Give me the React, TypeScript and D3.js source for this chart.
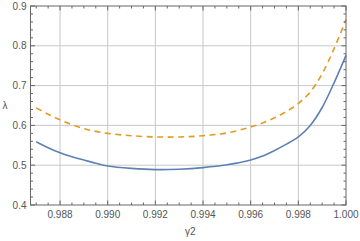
import React, { useRef, useEffect } from "react";
import * as d3 from "d3";

// data
const gammaValues = [
  0.987, 0.9875, 0.988, 0.9885, 0.989, 0.9895, 0.99, 0.991, 0.992, 0.993, 0.994,
  0.995, 0.996, 0.9965, 0.997, 0.9975, 0.998, 0.9985, 0.999, 0.9995, 1.0,
];
const lambdaSolid = [
  0.559, 0.544, 0.531, 0.521, 0.513, 0.505, 0.498, 0.492, 0.489, 0.49, 0.494,
  0.501, 0.513, 0.523, 0.537, 0.553, 0.571, 0.6, 0.645, 0.707, 0.776,
];
const lambdaDashed = [
  0.644, 0.628, 0.614, 0.602, 0.592, 0.585, 0.58, 0.574, 0.571, 0.571, 0.574,
  0.581, 0.596, 0.606, 0.619, 0.635, 0.655, 0.684, 0.73, 0.793, 0.866,
];
const xTicks = [0.988, 0.99, 0.992, 0.994, 0.996, 0.998, 1.0];
const yTicks = [0.4, 0.5, 0.6, 0.7, 0.8, 0.9];

const W = 360;
const H = 241;

const App = () => {
  const svgRef = useRef<SVGSVGElement>(null);

  useEffect(() => {
    const svg = d3.select(svgRef.current);
    svg.selectAll("*").remove();

    const left = 30.5, right = 346, top = 6, bottom = 205;
    const x = d3.scaleLinear().domain([0.98676, 1.0]).range([left, right]);
    const y = d3.scaleLinear().domain([0.4, 0.9]).range([bottom, top]);

    const frameColor = "#666";
    const gridColor = "#c8c8c8";
    const font = "'Liberation Sans', Arial, sans-serif";

    // grid
    const grid = svg.append("g");
    xTicks.filter((t) => t < 1).forEach((t) => {
      grid.append("line")
        .attr("x1", x(t)).attr("x2", x(t))
        .attr("y1", top).attr("y2", bottom)
        .attr("stroke", gridColor).attr("stroke-width", 1);
    });
    yTicks.filter((t) => t > 0.4 && t < 0.9).forEach((t) => {
      grid.append("line")
        .attr("x1", left).attr("x2", right)
        .attr("y1", y(t)).attr("y2", y(t))
        .attr("stroke", gridColor).attr("stroke-width", 1);
    });

    // curves
    const line = d3
      .line<number>()
      .x((_, i) => x(gammaValues[i]))
      .y((d) => y(d))
      .curve(d3.curveCatmullRom.alpha(0.5));

    svg.append("path")
      .datum(lambdaSolid)
      .attr("fill", "none")
      .attr("stroke", "#5E81B5")
      .attr("stroke-width", 1.6)
      .attr("d", line);

    svg.append("path")
      .datum(lambdaDashed)
      .attr("fill", "none")
      .attr("stroke", "#E19C24")
      .attr("stroke-width", 1.6)
      .attr("stroke-dasharray", "6,4.5")
      .attr("d", line);

    // frame
    svg.append("rect")
      .attr("x", left).attr("y", top)
      .attr("width", right - left).attr("height", bottom - top)
      .attr("fill", "none")
      .attr("stroke", frameColor).attr("stroke-width", 1);

    // ticks on all four sides
    const ticks = svg.append("g").attr("stroke", frameColor).attr("stroke-width", 1);
    const xMinor = d3.range(0, 27).map((i) => 0.987 + i * 0.0005);
    xMinor.forEach((t) => {
      const major = xTicks.some((m) => Math.abs(m - t) < 1e-6);
      const len = major ? 4.5 : 2.5;
      ticks.append("line")
        .attr("x1", x(t)).attr("x2", x(t))
        .attr("y1", bottom).attr("y2", bottom - len);
      ticks.append("line")
        .attr("x1", x(t)).attr("x2", x(t))
        .attr("y1", top).attr("y2", top + len);
    });
    const yMinor = d3.range(0, 26).map((i) => 0.4 + i * 0.02);
    yMinor.forEach((t) => {
      const major = yTicks.some((m) => Math.abs(m - t) < 1e-6);
      const len = major ? 4.5 : 2.5;
      ticks.append("line")
        .attr("x1", left).attr("x2", left + len)
        .attr("y1", y(t)).attr("y2", y(t));
      ticks.append("line")
        .attr("x1", right).attr("x2", right - len)
        .attr("y1", y(t)).attr("y2", y(t));
    });

    // tick labels
    const labels = svg.append("g")
      .attr("font-family", font)
      .attr("font-size", 10)
      .attr("fill", "#555");
    xTicks.forEach((t) => {
      labels.append("text")
        .attr("x", x(t)).attr("y", bottom + 13)
        .attr("text-anchor", "middle")
        .text(d3.format(".3f")(t));
    });
    yTicks.forEach((t) => {
      labels.append("text")
        .attr("x", left - 4).attr("y", y(t) + 3.5)
        .attr("text-anchor", "end")
        .text(d3.format(".1f")(t));
    });

    // axis labels
    labels.append("text")
      .attr("x", (left + right) / 2 + 2).attr("y", 235)
      .attr("text-anchor", "middle")
      .text("γ2");
    labels.append("text")
      .attr("x", 2.5).attr("y", 109)
      .text("λ");
  }, []);

  return (
    <svg
      ref={svgRef}
      width={W}
      height={H}
      style={{ position: "absolute", left: 0, top: 0, background: "#fff" }}
    />
  );
};

export default App;
